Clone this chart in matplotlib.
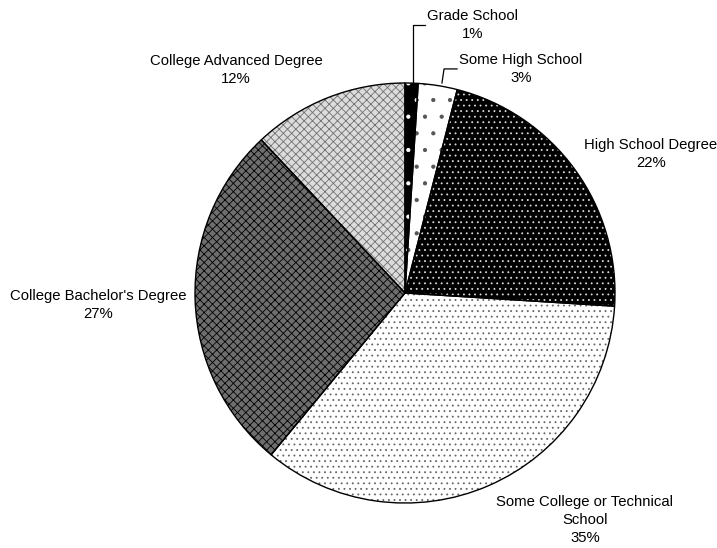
import matplotlib.pyplot as plt

labels = ["Grade School", "Some High School", "High School Degree",
          "Some College or Technical\nSchool", "College Bachelor's Degree",
          "College Advanced Degree"]
shares = [1, 3, 22, 35, 27, 12]

# look of each slice: face colour, hatch, hatch colour
faces = ["black", "white", "black", "white", "#6e6e6e", "#dcdcdc"]
hatches = [".", ".", "...", "...", "xxxx", "xxxx"]
hatch_cols = ["white", "#555555", "#d8d8d8", "#666666", "black", "#707070"]

# text spots for the labels (data units, radius 1)
label_pos = [(0.321, 1.276), (0.552, 1.067), (1.17, 0.662),
             (0.857, -1.081), (-1.462, -0.057), (-0.805, 1.062)]

plt.rcParams['font.family'] = ['Liberation Sans', 'DejaVu Sans']
plt.rcParams['hatch.linewidth'] = 0.6

fig = plt.figure(figsize=(7.17, 5.48), dpi=100)
ax = fig.add_axes([0, 0, 1, 1])

# filled, hatched slices (edge colour drives the hatch colour)
wedges, _ = ax.pie(shares, startangle=90, counterclock=False, radius=1,
                   colors=faces, wedgeprops=dict(linewidth=0))
for w, h, hc in zip(wedges, hatches, hatch_cols):
    w.set_hatch(h)
    w.set_edgecolor(hc)
    w.set_linewidth(0)

# black outlines on top
outl, _ = ax.pie(shares, startangle=90, counterclock=False, radius=1,
                 wedgeprops=dict(fill=False, edgecolor="black", linewidth=1.0))

for lab, val, (x, y) in zip(labels, shares, label_pos):
    ax.text(x, y, f"{lab}\n{val}%", ha="center", va="center",
            fontsize=10.7, linespacing=1.4)

# leader lines for the two thin slices
ax.plot([0.038, 0.038, 0.095], [1.0, 1.276, 1.276], color="black", lw=0.9)
ax.plot([0.176, 0.186, 0.248], [1.0, 1.067, 1.067], color="black", lw=0.9)

ax.set_xlim(-405 / 210, 312 / 210)
ax.set_ylim(-255 / 210, 293 / 210)
ax.set_aspect("equal")
ax.axis("off")

fig.savefig("out.png", dpi=100)
